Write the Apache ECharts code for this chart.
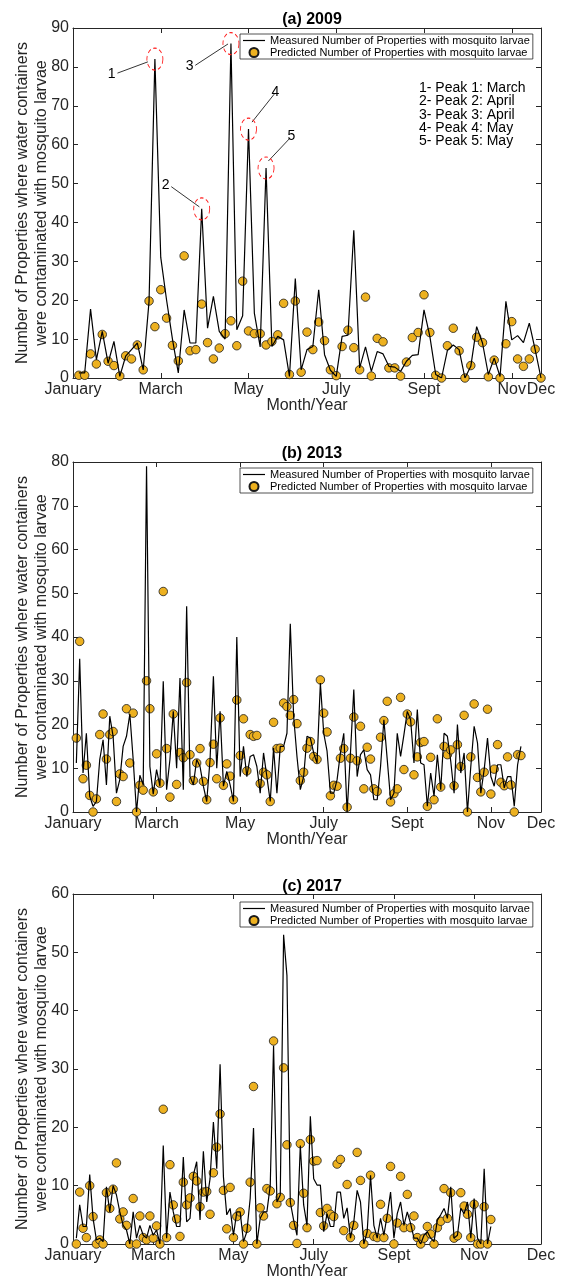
<!DOCTYPE html>
<html>
<head>
<meta charset="utf-8">
<script src="https://cdn.jsdelivr.net/npm/echarts@6.0.0/dist/echarts.min.js"></script>
<style>html,body{margin:0;padding:0;background:#fff}#chart{width:563px;height:1281px}</style>
</head>
<body>
<div id="chart"></div>
<script>
var myChart = echarts.init(document.getElementById('chart'));

/* tick labels and their positions (sample index) */
var monthLabels = ['January', 'March', 'May', 'July', 'Sept', 'Nov', 'Dec'];
var ticksA = [0, 15, 30, 45, 60, 75, 80];
var ticksB = [0, 25, 50, 75, 100, 125, 140];
var ticksC = [0, 24, 48, 72, 96, 120, 140];

var nameMeas = 'Measured Number of Properties with mosquito larvae';
var namePred = 'Predicted Number of Properties with mosquito larvae';

/* (a) 2009 */
var measA = [1.3,1.3,17.7,4.7,12,3.8,9.4,0.4,5.6,7.3,
  9,2.1,19.7,82,31,20,10,1.3,17.5,9,
  9,43.5,12.8,21,12,10,86,12.4,16,64,
  16.7,8,54,8.1,10.7,9.8,0.4,25.6,2.1,7.3,
  8.1,22.7,6,2,0.4,10.7,11,38,2.6,8,
  1.7,6.8,6.2,3,2.8,1.7,4.3,5.8,6,17.5,
  10.7,0.9,0,7.1,8.5,7.3,0,3,13.2,9,
  0.9,5.1,0.4,19.7,9.8,10.9,9.1,14.1,7.3,0];
var predA = [0.7,0.7,6.2,3.6,11.2,4.3,3.2,0.5,5.7,4.9,
  8.5,2.1,19.8,13.2,22.7,15.4,8.4,4.4,31.4,7.0,
  7.3,19.0,9.1,4.9,7.7,11.4,14.7,8.3,24.9,12.1,
  11.4,11.4,8.5,9.4,11.1,19.2,0.9,19.8,1.5,11.8,
  7.3,14.4,9.6,2.1,0.6,8.1,12.3,7.8,2.1,20.8,
  0.5,10.2,9.3,2.6,2.6,0.5,4.1,10.4,11.7,21.4,
  11.7,0.7,0,8.3,12.8,7.0,0,3.2,10.5,9.1,
  0.3,4.6,0,8.8,14.5,4.9,3.0,4.9,7.4,0];

/* (b) 2013 */
var measB = [11.2,35,8.9,18,3.6,1.3,2.4,12,16.5,6.2,
  21.9,17.3,4.3,7.4,15,17.3,22.4,12,0,8.4,
  6.2,79,10.4,4.1,9.7,5.9,29.9,5.1,12,23,
  10,30.6,5.1,47,8.1,6.2,12,10.4,5.9,2.4,
  12,31,10,23,5.9,9.3,6.2,2.4,40,8.1,
  15,8.1,12.7,13.1,10.4,4.3,13.5,8.1,2.4,14.6,
  4.3,15,15,18,43,21.9,12.7,5.1,8.1,17.3,
  16.9,13.5,11.2,29.5,18,13.9,4.3,4.3,7.4,13.5,
  18,0,13.5,28,8.1,13.1,14.2,9.7,8.5,2.8,
  2.8,10.4,21.1,12,2.8,4.3,18,12.7,17.7,23,
  21.1,11.2,23.4,11.2,10.8,1.3,8.9,3.6,13.1,5.1,
  18,17.3,11.6,4.3,20,8.9,13.5,0,10.4,19.6,
  15.8,4.3,9.7,16.9,8.1,5.9,10.8,10.8,5.5,8.1,
  8.1,1.3,10.8,15];
var predB = [16.9,39,7.6,10.7,3.8,0,3.0,17.7,22.4,12.1,
  17.7,18.4,2.4,8.7,8.1,23.6,11.2,22.6,0,6.1,
  5.0,30,23.6,4.6,13.3,6.6,50.4,14.5,3.4,22.4,
  6.3,13.6,12.4,29.6,13.1,7.2,11.2,14.5,7.0,2.8,
  11.3,15.5,7.6,21.5,6.1,11,8.2,2.8,25.6,12.9,
  21.3,9.4,17.7,17.3,17.5,6.5,9.1,8.5,2.4,20.5,
  14.5,14.6,24.9,24.1,22.1,25.7,20.2,7.2,9.1,14.6,
  16.1,12.7,12,30.2,22.6,18.3,3.7,6.1,5.9,12.3,
  14.5,1.1,12.3,21.7,11.7,19.6,5.3,14.8,12.1,5.3,
  4.7,17.1,20.9,25.3,2.3,4.2,5.3,26.2,9.7,22.4,
  20.6,8.5,12.6,15.9,16.1,1.3,12.5,2.8,21.3,5.7,
  15,13.1,14.2,6.0,15.4,10.4,22.1,0,12.6,24.7,
  7.9,4.6,9.1,23.5,4.1,9.8,15.4,6.8,6.0,12.6,
  6.2,0,13.1,12.9];

/* (c) 2017 */
var measC = [1,6.7,3,3,11.9,4.4,0.7,1,0.4,9.8,
  5.5,10,8.4,5.5,3.2,2.4,0,5.5,1,3.2,
  1.5,1,3.2,1.5,2.4,0,16.9,1,8.9,5.5,
  3,3,14.9,3.8,4.4,11.8,14.1,4.1,15.9,7.2,
  11.2,20.9,12.9,30.8,11.5,5,6.1,1.5,5.5,5.5,
  0.4,2.1,7.8,19.9,0,4.4,5.5,5.5,10,34,
  7.2,8.4,53,46,7.2,4.1,1.5,16.9,6.7,3.2,
  21.9,11.2,10.1,10.1,2.1,5.2,3,3,8.9,8.9,
  4.4,6.2,1,3.8,9.2,7.2,0,2.1,11.8,3.2,
  1,4.4,1.5,5,8.9,1,5.2,7.2,3.2,5.5,
  3.5,1,1,0,1.5,2.1,1,0.4,4.1,5,
  6.1,4.4,9.8,1,1.5,6.1,5.2,7.2,1,7.8,
  1,0,12.9,0,3];
var predC = [0,8.9,2.7,1.1,10,4.7,0,0.7,0,8.8,
  6.1,9.4,13.9,4.3,5.5,3.2,0,7.8,0,4.8,
  1.1,0.7,4.8,1.0,3.1,0,23.1,1.1,13.6,6.7,
  4.3,1.3,10.6,6.7,7.9,11.6,10.8,6.4,8.9,9.0,
  5.1,12.2,16.6,22.3,9.2,2.6,9.7,1.1,4.7,5.5,
  0,2.7,10.6,27,0,6.2,4.8,9.5,9.1,34.8,
  6.9,8.0,30.2,17.0,7.1,3.2,0.1,17.2,8.7,2.8,
  17.9,14.2,14.3,5.4,3.1,6.1,5.1,4.7,13.7,14.5,
  2.3,10.2,1.1,3.2,15.7,10.9,0,1.8,11.8,1.3,
  1.1,6.8,1.1,4.4,13.3,0,3.6,11.6,2.8,8.5,
  2.8,4.8,1.1,0,1.0,3.0,1.7,0,2.8,3.9,
  9.5,4.4,8.8,1.0,1.4,8.8,6.5,5.1,1.1,6.8,
  0,0,6.4,0,4.2];

/* peaks marked in (a): [index, value] and arrows [label, from, to] */
var peaksA = [[14, 82], [22, 43.5], [27, 86], [30, 64], [33, 54]];
var arrowsA = [
  ['1', [7.6, 78.4], [12.8, 81.3]],
  ['2', [16.8, 49.2], [21.6, 44.0]],
  ['3', [20.9, 80.4], [26.5, 85.9]],
  ['4', [34.4, 73.0], [30.6, 65.8]],
  ['5', [37.1, 61.7], [33.4, 55.8]]
];
var peakNotes = ['1- Peak 1: March', '2- Peak 2: April', '3- Peak 3: April', '4- Peak 4: May', '5- Peak 5: May'];

var font = 'Liberation Sans, Arial, Helvetica, sans-serif';
var axisCol = '#262626';

function toPairs(arr) {
    return arr.map(function (v, i) { return [i + 1, v]; });
}

var panels = [
    {title: '(a) 2009', top: 28, bottom: 903, xmax: 80, ticks: ticksA, ymax: 90, meas: measA, pred: predA},
    {title: '(b) 2013', top: 462, bottom: 469, xmax: 140, ticks: ticksB, ymax: 80, meas: measB, pred: predB},
    {title: '(c) 2017', top: 894, bottom: 35, xmax: 140, ticks: ticksC, ymax: 60, meas: measC, pred: predC}
];

var grids = [], xAxes = [], yAxes = [], series = [], titles = [], legends = [];
var titleTops = [7, 441, 874];
var legendTops = [34, 468, 902];

panels.forEach(function (p, k) {
    grids.push({left: 73, right: 22, top: p.top, bottom: p.bottom});
    titles.push({
        text: p.title, left: 307, top: titleTops[k], textAlign: 'center',
        textStyle: {fontSize: 16, fontWeight: 'bold', color: '#000', fontFamily: font}
    });
    var ticks = p.ticks;
    xAxes.push({
        type: 'value', gridIndex: k, min: 0, max: p.xmax, position: 'bottom',
        axisLine: {show: true, onZero: false, lineStyle: {color: axisCol, width: 1}},
        axisTick: {show: true, inside: true, length: 5, customValues: ticks, lineStyle: {color: axisCol}},
        axisLabel: {
            customValues: ticks, fontSize: 16, color: axisCol, fontFamily: font, margin: 4,
            formatter: function (v) { return monthLabels[ticks.indexOf(v)]; }
        },
        splitLine: {show: false},
        name: 'Month/Year', nameLocation: 'middle', nameGap: 20, nameMoveOverlap: false,
        nameTextStyle: {fontSize: 16, color: axisCol, fontFamily: font}
    });
    xAxes.push({
        type: 'value', gridIndex: k, min: 0, max: p.xmax, position: 'top',
        axisLine: {show: true, onZero: false, lineStyle: {color: axisCol, width: 1}},
        axisTick: {show: true, inside: true, length: 5, customValues: ticks, lineStyle: {color: axisCol}},
        axisLabel: {show: false},
        splitLine: {show: false}
    });
    yAxes.push({
        type: 'value', gridIndex: k, min: 0, max: p.ymax, interval: 10, position: 'left',
        axisLine: {show: true, onZero: false, lineStyle: {color: axisCol, width: 1}},
        axisTick: {show: true, inside: true, length: 5, lineStyle: {color: axisCol}},
        axisLabel: {fontSize: 16, color: axisCol, fontFamily: font, margin: 4},
        splitLine: {show: false},
        name: 'Number of Properties where water containers\nwere contaminated with mosquito larvae',
        nameLocation: 'middle', nameGap: 22, nameMoveOverlap: false,
        nameTextStyle: {fontSize: 16, color: axisCol, fontFamily: font, lineHeight: 19}
    });
    yAxes.push({
        type: 'value', gridIndex: k, min: 0, max: p.ymax, interval: 10, position: 'right',
        axisLine: {show: true, onZero: false, lineStyle: {color: axisCol, width: 1}},
        axisTick: {show: true, inside: true, length: 5, lineStyle: {color: axisCol}},
        axisLabel: {show: false},
        splitLine: {show: false}
    });
    series.push({
        name: namePred, type: 'scatter', xAxisIndex: 2 * k, yAxisIndex: 2 * k,
        data: toPairs(p.pred), symbol: 'circle', symbolSize: 8.5, z: 2,
        itemStyle: {color: '#EDB120', borderColor: '#1a1a1a', borderWidth: 0.8, opacity: 1}
    });
    var lineSeries = {
        name: nameMeas, type: 'line', xAxisIndex: 2 * k, yAxisIndex: 2 * k,
        data: toPairs(p.meas), symbol: 'none', showSymbol: false, z: 3,
        lineStyle: {color: '#000', width: 1.2}, itemStyle: {color: '#000'}
    };
    if (k === 0) {
        lineSeries.markPoint = {
            symbol: 'circle', symbolSize: [16, 22], silent: true,
            label: {show: false},
            itemStyle: {color: 'rgba(0,0,0,0)', borderColor: '#ff1a1a', borderWidth: 1, borderType: [4, 3]},
            data: peaksA.map(function (c) { return {coord: c}; })
        };
        lineSeries.markLine = {
            silent: true, symbol: ['none', 'arrow'], symbolSize: [0, 7],
            lineStyle: {color: '#000', width: 0.8, type: 'solid'},
            label: {show: true, position: 'start', formatter: '{b}', fontSize: 14, color: '#000', fontFamily: font, distance: 2},
            data: arrowsA.map(function (a) { return [{name: a[0], coord: a[1]}, {coord: a[2]}]; })
        };
    }
    series.push(lineSeries);
    legends.push({
        left: 240, top: legendTops[k], orient: 'vertical', itemGap: 1,
        itemWidth: 22, itemHeight: 9, padding: [1, 3, 1, 3],
        borderColor: axisCol, borderWidth: 0.8, backgroundColor: '#fff',
        textStyle: {fontSize: 11, color: '#000', fontFamily: font},
        data: [
            {name: nameMeas, icon: 'path://M0,0 L22,0 L22,1.2 L0,1.2 Z'},
            {name: namePred, icon: 'circle'}
        ]
    });
});

var option = {
    animation: false,
    backgroundColor: '#fff',
    title: titles,
    legend: legends,
    grid: grids,
    xAxis: xAxes,
    yAxis: yAxes,
    series: series,
    graphic: [{
        type: 'text', left: 419, top: 81,
        style: {text: peakNotes.join('\n'), fontSize: 14, lineHeight: 13.4, fill: '#000', fontFamily: font}
    }]
};
myChart.setOption(option);
</script>
</body>
</html>
